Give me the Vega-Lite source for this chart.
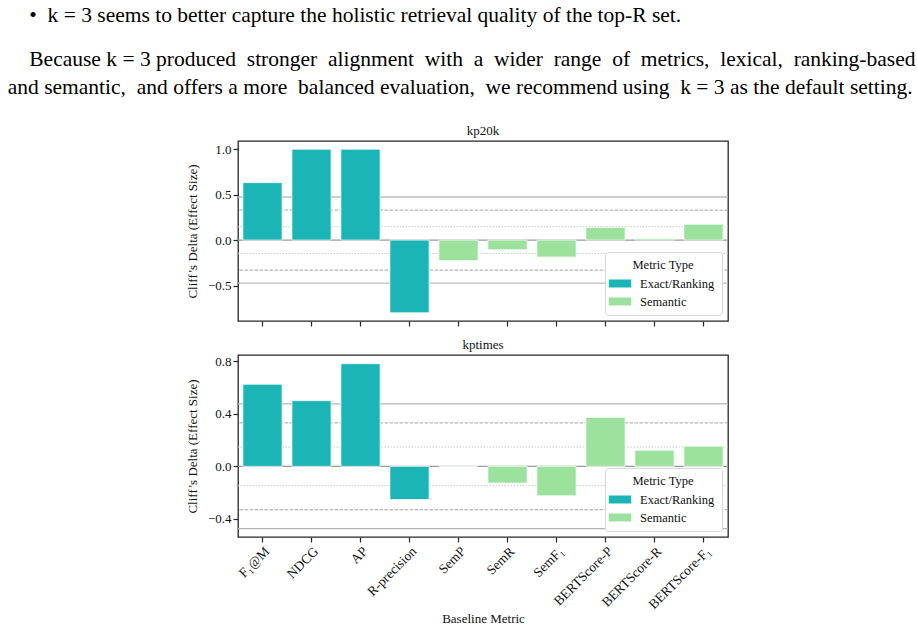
{
  "$schema": "https://vega.github.io/schema/vega-lite/v6.json",
  "padding": {"left": 7, "top": 5, "right": 5, "bottom": 5},
  "background": "white",
  "title": {
    "text": "\u200b\u00a0\u00a0\u00a0\u00a0•\u00a0\u00a0k = 3 seems to better capture the holistic retrieval quality of the top-R set.",
    "subtitle": ["\u200b\u00a0\u00a0\u00a0\u00a0Because k = 3 produced \u00a0stronger \u00a0alignment \u00a0with \u00a0a \u00a0wider \u00a0range \u00a0of \u00a0metrics, \u00a0lexical, \u00a0ranking-based", "and semantic, \u00a0and offers a more \u00a0balanced evaluation, \u00a0we recommend using \u00a0k = 3 as the default setting."],
    "anchor": "start",
    "frame": "bounds",
    "dx": -178,
    "font": "Liberation Serif",
    "fontSize": 21.5,
    "fontWeight": "normal",
    "color": "black",
    "subtitleFont": "Liberation Serif",
    "subtitleFontSize": 21.5,
    "subtitleColor": "black",
    "subtitleLineHeight": 28,
    "subtitlePadding": 22,
    "offset": 26
  },
  "datasets": {
    "effects": [
      {"dataset": "kp20k", "metric": "F₁@M", "type": "Exact/Ranking", "delta": 0.632},
      {"dataset": "kp20k", "metric": "NDCG", "type": "Exact/Ranking", "delta": 1.0},
      {"dataset": "kp20k", "metric": "AP", "type": "Exact/Ranking", "delta": 1.0},
      {"dataset": "kp20k", "metric": "R-precision", "type": "Exact/Ranking", "delta": -0.8},
      {"dataset": "kp20k", "metric": "SemP", "type": "Semantic", "delta": -0.226},
      {"dataset": "kp20k", "metric": "SemR", "type": "Semantic", "delta": -0.106},
      {"dataset": "kp20k", "metric": "SemF₁", "type": "Semantic", "delta": -0.186},
      {"dataset": "kp20k", "metric": "BERTScore-P", "type": "Semantic", "delta": 0.139},
      {"dataset": "kp20k", "metric": "BERTScore-R", "type": "Semantic", "delta": 0.015},
      {"dataset": "kp20k", "metric": "BERTScore-F₁", "type": "Semantic", "delta": 0.175},
      {"dataset": "kptimes", "metric": "F₁@M", "type": "Exact/Ranking", "delta": 0.624},
      {"dataset": "kptimes", "metric": "NDCG", "type": "Exact/Ranking", "delta": 0.499},
      {"dataset": "kptimes", "metric": "AP", "type": "Exact/Ranking", "delta": 0.78},
      {"dataset": "kptimes", "metric": "R-precision", "type": "Exact/Ranking", "delta": -0.252},
      {"dataset": "kptimes", "metric": "SemP", "type": "Semantic", "delta": 0.0},
      {"dataset": "kptimes", "metric": "SemR", "type": "Semantic", "delta": -0.127},
      {"dataset": "kptimes", "metric": "SemF₁", "type": "Semantic", "delta": -0.224},
      {"dataset": "kptimes", "metric": "BERTScore-P", "type": "Semantic", "delta": 0.372},
      {"dataset": "kptimes", "metric": "BERTScore-R", "type": "Semantic", "delta": 0.122},
      {"dataset": "kptimes", "metric": "BERTScore-F₁", "type": "Semantic", "delta": 0.153}
    ],
    "thresholds": [
      {"level": "medium", "value": 0.474},
      {"level": "medium", "value": -0.474},
      {"level": "small", "value": 0.33},
      {"level": "small", "value": -0.33},
      {"level": "negligible", "value": 0.147},
      {"level": "negligible", "value": -0.147},
      {"level": "zero", "value": 0}
    ]
  },
  "spacing": 10,
  "vconcat": [
    {
      "title": {"text": "kp20k"},
      "width": 490,
      "height": 180,
      "layer": [
        {
          "data": {"name": "thresholds"},
          "transform": [{"filter": "datum.level === 'medium'"}],
          "mark": {"type": "rule", "color": "#bdbdbd", "strokeWidth": 1.3},
          "encoding": {"y": {"field": "value", "type": "quantitative", "scale": {"domain": [-0.89, 1.09], "nice": false, "zero": false}}}
        },
        {
          "data": {"name": "thresholds"},
          "transform": [{"filter": "datum.level === 'small'"}],
          "mark": {"type": "rule", "color": "#9a9a9a", "strokeWidth": 0.9, "strokeDash": [3.5, 1.5]},
          "encoding": {"y": {"field": "value", "type": "quantitative"}}
        },
        {
          "data": {"name": "thresholds"},
          "transform": [{"filter": "datum.level === 'negligible'"}],
          "mark": {"type": "rule", "color": "#c4c4c4", "strokeWidth": 0.9, "strokeDash": [1.5, 1.5]},
          "encoding": {"y": {"field": "value", "type": "quantitative"}}
        },
        {
          "data": {"name": "thresholds"},
          "transform": [{"filter": "datum.level === 'zero'"}],
          "mark": {"type": "rule", "color": "#9a9a9a", "strokeWidth": 1.2},
          "encoding": {"y": {"field": "value", "type": "quantitative"}}
        },
        {
          "data": {"name": "effects"},
          "transform": [{"filter": "datum.dataset === 'kp20k'"}],
          "mark": {"type": "bar", "stroke": "#f4fbfb", "strokeWidth": 0.8},
          "encoding": {
            "x": {"field": "metric", "type": "nominal", "sort": null,
                  "scale": {"paddingInner": 0.2, "paddingOuter": 0.1},
                  "axis": {"labels": false, "title": null}},
            "y": {"field": "delta", "type": "quantitative",
                  "axis": {"title": "Cliff’s Delta (Effect Size)", "values": [-0.5, 0, 0.5, 1.0], "format": ".1f"}},
            "color": {"field": "type", "type": "nominal",
                      "scale": {"domain": ["Exact/Ranking", "Semantic"], "range": ["#1cb5b6", "#9de29c"]},
                      "legend": {"title": "Metric Type", "orient": "bottom-right", "offset": 6}}
          }
        }
      ]
    },
    {
      "title": {"text": "kptimes"},
      "width": 490,
      "height": 182,
      "layer": [
        {
          "data": {"name": "thresholds"},
          "transform": [{"filter": "datum.level === 'medium'"}],
          "mark": {"type": "rule", "color": "#b5b5b5", "strokeWidth": 1.3},
          "encoding": {"y": {"field": "value", "type": "quantitative", "scale": {"domain": [-0.537, 0.846], "nice": false, "zero": false}}}
        },
        {
          "data": {"name": "thresholds"},
          "transform": [{"filter": "datum.level === 'small'"}],
          "mark": {"type": "rule", "color": "#9a9a9a", "strokeWidth": 0.9, "strokeDash": [3.5, 1.5]},
          "encoding": {"y": {"field": "value", "type": "quantitative"}}
        },
        {
          "data": {"name": "thresholds"},
          "transform": [{"filter": "datum.level === 'negligible'"}],
          "mark": {"type": "rule", "color": "#c4c4c4", "strokeWidth": 0.9, "strokeDash": [1.5, 1.5]},
          "encoding": {"y": {"field": "value", "type": "quantitative"}}
        },
        {
          "data": {"name": "thresholds"},
          "transform": [{"filter": "datum.level === 'zero'"}],
          "mark": {"type": "rule", "color": "#9a9a9a", "strokeWidth": 1.2},
          "encoding": {"y": {"field": "value", "type": "quantitative"}}
        },
        {
          "data": {"name": "effects"},
          "transform": [{"filter": "datum.dataset === 'kptimes'"}],
          "mark": {"type": "bar", "stroke": "#f4fbfb", "strokeWidth": 0.8},
          "encoding": {
            "x": {"field": "metric", "type": "nominal", "sort": null,
                  "scale": {"paddingInner": 0.2, "paddingOuter": 0.1},
                  "axis": {"title": "Baseline Metric", "labelAngle": -45, "labelAlign": "right", "labelBaseline": "top", "labelFontSize": 13.5, "titlePadding": 2}},
            "y": {"field": "delta", "type": "quantitative",
                  "axis": {"title": "Cliff’s Delta (Effect Size)", "values": [-0.4, -0.2, 0, 0.2, 0.4, 0.6, 0.8], "format": ".1f"}},
            "color": {"field": "type", "type": "nominal",
                      "scale": {"domain": ["Exact/Ranking", "Semantic"], "range": ["#1cb5b6", "#9de29c"]},
                      "legend": {"title": "Metric Type", "orient": "bottom-right", "offset": 6}}
          }
        }
      ]
    }
  ],
  "resolve": {"scale": {"color": "independent", "y": "independent"}, "legend": {"color": "independent"}},
  "config": {
    "font": "Liberation Serif",
    "view": {"stroke": "#262626", "strokeWidth": 1.3},
    "title": {"fontSize": 13, "fontWeight": "normal", "offset": 3, "color": "#111", "font": "Liberation Serif"},
    "axis": {
      "grid": false, "domain": false,
      "labelFont": "Liberation Serif", "titleFont": "Liberation Serif",
      "labelFontSize": 13, "titleFontSize": 13, "titleFontWeight": "normal",
      "labelColor": "#111", "titleColor": "#111",
      "tickColor": "#262626", "tickSize": 5, "tickWidth": 1.2, "labelPadding": 2, "titlePadding": 8
    },
    "legend": {
      "fillColor": "white", "strokeColor": "#d6d6d6", "cornerRadius": 3, "padding": 7,
      "titleAnchor": "middle", "titleFontWeight": "normal", "titleFontSize": 12.5, "titleFont": "Liberation Serif",
      "labelFontSize": 12.5, "labelFont": "Liberation Serif", "labelColor": "#111", "titleColor": "#111",
      "symbolType": "M-1.4,-0.5H1.4V0.5H-1.4Z", "symbolSize": 256, "symbolStrokeWidth": 0, "symbolOpacity": 1,
      "rowPadding": 3, "labelOffset": 12, "titlePadding": 4
    }
  }
}
